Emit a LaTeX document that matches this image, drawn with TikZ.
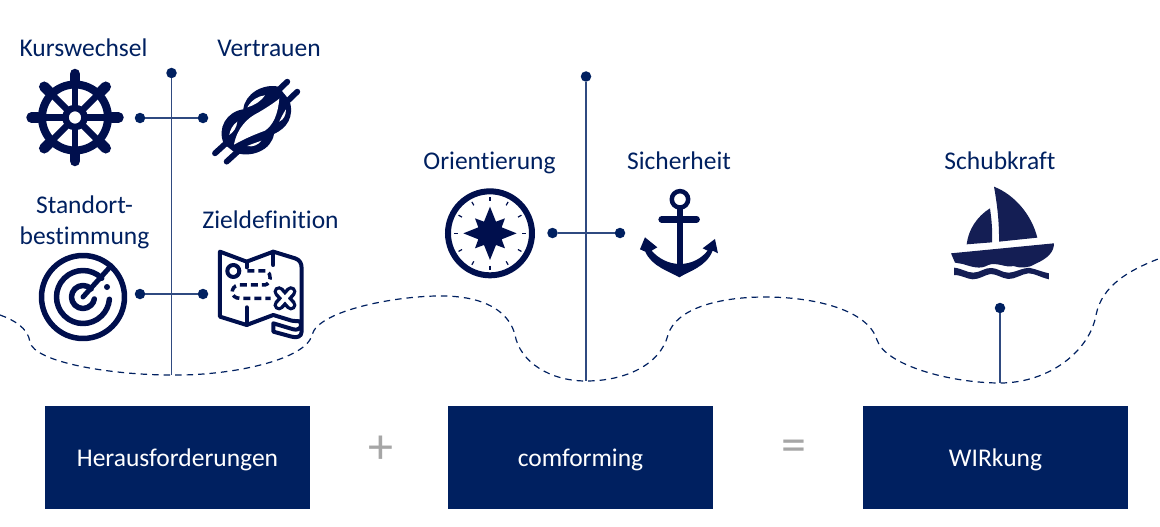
\documentclass[tikz,border=0pt]{standalone}
\usepackage{fontspec}
\setmainfont{Carlito}[Ligatures=NoCommon]
\usetikzlibrary{positioning}
\definecolor{navy}{HTML}{002060}
\definecolor{icon}{HTML}{000F4D}
\definecolor{boat}{HTML}{141E54}
\definecolor{stem}{HTML}{2F4A80}
\definecolor{signgray}{HTML}{A6A6A6}

\begin{document}
\begin{tikzpicture}[
    x=1pt, y=-1pt,
    label/.style={text=navy, align=center, anchor=base, font=\fontsize{25.5}{31}\selectfont, inner sep=0pt},
    box/.style={fill=navy, minimum width=265pt, minimum height=103pt, inner sep=0pt},
    boxtext/.style={text=white, anchor=base, inner sep=0pt, font=\fontsize{25.5}{31}\selectfont},
    sign/.style={text=signgray, inner sep=0pt, font=\fontsize{50}{50}\selectfont},
    dot/.style={circle, fill=navy, minimum size=10.5pt, inner sep=0pt},
    stemline/.style={stem, line width=1.4pt},
    wave/.style={navy, line width=1.2pt, dash pattern=on 6.5pt off 5pt},
    ink/.style={icon, line width=#1, line cap=round, line join=round},
    ink/.default=4pt,
    iconat/.style={shift={#1}, x=1pt, y=1pt},
    zoomat/.style={shift={#1}, x=0.3333pt, y=-0.3333pt}
]
\useasboundingbox (0,0) rectangle (1160,527);

% Boxes
\node[box] (challenges) at (177.5,457.5) {};
\node[box] (comforming) at (580.5,457) {};
\node[box] (impact) at (995.5,457) {};
\node[boxtext] at (177.5,466) {Herausforderungen};
\node[boxtext] at (580.5,466) {comforming};
\node[boxtext] at (995.5,466) {WIRkung};
\node[sign] (plus) at (381,450) {+};
\node[sign] (equals) at (794,451) {=};

% Labels
\node[label] (course) at (83.5,56.5) {Kurswechsel};
\node[label] (trust) at (269,56.5) {Vertrauen};
\node[label] (position) at (84.5,244) {Standort-\\bestimmung};
\node[label] (goal) at (270.5,228) {Zieldefinition};
\node[label] (orientation) at (489.5,169) {Orientierung};
\node[label] (safety) at (679,169) {Sicherheit};
\node[label] (thrust) at (1000,169) {Schubkraft};

% Dots
\node[dot] (topa) at (171.5,73) {};
\node[dot] (lefta) at (140,118) {};
\node[dot] (righta) at (203,118) {};
\node[dot] (leftb) at (140,294) {};
\node[dot] (rightb) at (203,294) {};
\node[dot] (topc) at (586,76.5) {};
\node[dot] (leftc) at (552.5,233) {};
\node[dot] (rightc) at (620,233) {};
\node[dot] (topd) at (1000,308) {};

% Wave
\coordinate (basea) at (171.5,375);
\coordinate (basec) at (586,381);
\coordinate (based) at (1000,383);
\draw[wave] (0,315) .. controls (14,320) and (28,328) .. (30,342)
  .. controls (34,362) and (110,375) .. (basea)
  .. controls (230,376) and (306,360) .. (312,335)
  .. controls (318,310) and (400,295) .. (445,296)
  .. controls (490,297) and (510,315) .. (515,335)
  .. controls (520,362) and (550,381) .. (basec)
  .. controls (625,381) and (660,365) .. (668,335)
  .. controls (676,308) and (720,297) .. (765,297)
  .. controls (815,297) and (868,310) .. (877,340)
  .. controls (885,365) and (950,383) .. (based)
  .. controls (1050,383) and (1090,350) .. (1096,315)
  .. controls (1102,285) and (1130,270) .. (1158,259);

% Connectors
\draw[stemline] (topa) -- (basea);
\draw[stemline] (lefta) -- (righta);
\draw[stemline] (leftb) -- (rightb);
\draw[stemline] (topc) -- (basec);
\draw[stemline] (leftc) -- (rightc);
\draw[stemline] (topd) -- (based);

% Wheel
\begin{scope}[iconat={(75,117.5)}]
  \draw[ink=8pt] (0,0) circle [radius=33pt];
  \foreach \a in {0,45,...,315} {
    \draw[icon, line width=6.5pt] (\a:9) -- (\a:35);
    \draw[ink=10.5pt] (\a:37) -- (\a:43.5);
  }
  \draw[ink=6.5pt, fill=white] (0,0) circle [radius=9.5pt];
\end{scope}

% Knot
\begin{scope}[zoomat={(0,20)}]
  \fill[icon] (672,372) .. controls (650,325) and (680,275) .. (730,268)
    .. controls (735,220) and (790,190) .. (835,200) -- (868,240)
    .. controls (885,290) and (860,325) .. (822,342)
    .. controls (815,390) and (755,415) .. (705,398) -- cycle;
  \draw[ink=5.8pt] (645,400) -- (700,350);
  \draw[ink=5.8pt] (680,425) -- (735,375);
  \draw[ink=5.8pt] (862,185) -- (810,235);
  \draw[ink=5.8pt] (892,215) -- (840,265);
  \fill[white] (702,374) .. controls (712,322) and (745,292) .. (775,278)
    .. controls (795,266) and (818,252) .. (838,236)
    .. controls (834,282) and (820,315) .. (795,332)
    .. controls (762,344) and (730,358) .. (702,374) -- cycle;
  \fill[white] (742,262) .. controls (755,240) and (775,228) .. (795,226)
    .. controls (785,242) and (765,255) .. (742,262) -- cycle;
  \fill[white] (688,345) .. controls (690,330) and (698,315) .. (712,305)
    .. controls (710,322) and (702,335) .. (688,345) -- cycle;
  \fill[white] (838,305) .. controls (845,290) and (850,280) .. (858,268)
    .. controls (858,285) and (852,298) .. (838,305) -- cycle;
  \fill[white] (742,378) .. controls (755,372) and (770,368) .. (784,362)
    .. controls (775,375) and (758,382) .. (742,378) -- cycle;
\end{scope}

% Radar
\begin{scope}[iconat={(83,297)}]
  \draw[ink=5.5pt] (0,0) circle [radius=41.5pt];
  \draw[ink=5.5pt] (45:26.5) arc [start angle=45, end angle=355, radius=26.5pt];
  \draw[ink=5.5pt] (45:11.5) arc [start angle=45, end angle=350, radius=11.5pt];
  \draw[ink=5pt] (0,0) -- (48:42);
  \fill[icon] (24,10) circle [radius=3pt];
\end{scope}

% Map
\begin{scope}[zoomat={(0,190)}]
  \draw[ink=4pt] (660,185) -- (740,215) -- (820,185) -- (885,205)
    .. controls (900,210) and (905,220) .. (905,235) -- (905,425)
    .. controls (905,440) and (890,445) .. (875,440) -- (820,425) -- (820,400)
    -- (880,418) .. controls (900,422) and (905,410) .. (903,400)
    .. controls (900,390) and (890,395) .. (875,392) -- (820,375) -- (740,405) -- (660,380) -- cycle;
  \draw[ink=4pt] (740,215) -- (740,232);
  \draw[ink=4pt] (820,185) -- (820,225);
  \draw[ink=4pt] (740,352) -- (740,405);
  \draw[ink=4pt] (700,243) circle [radius=6pt];
  \draw[icon, line width=3.5pt, dash pattern=on 7pt off 4pt] (742,243) -- (800,243)
    .. controls (815,250) and (815,280) .. (795,285) -- (715,285)
    .. controls (690,290) and (690,325) .. (720,325) -- (812,325);
  \draw[ink=11pt] (837,305) -- (873,345) (873,305) -- (837,345);
  \draw[white, line width=4pt, line cap=round] (837,305) -- (873,345) (873,305) -- (837,345);
\end{scope}

% Compass
\begin{scope}[zoomat={(410,140)}]
  \draw[icon, line width=6pt] (240,280) circle [radius=42pt];
  \foreach \a in {0,30,...,330} {
    \draw[icon, line width=1.2pt] (240,280) ++(\a:97) -- ++(\a:12);
  }
  \fill[icon] (240,200) -- (258,245) -- (285,235) -- (275,262) -- (320,280) -- (275,298)
    -- (285,325) -- (258,315) -- (240,360) -- (222,315) -- (195,325) -- (205,298)
    -- (160,280) -- (205,262) -- (195,235) -- (222,245) -- cycle;
\end{scope}

% Anchor
\begin{scope}[zoomat={(410,140)}]
  \draw[ink=4.5pt] (810,178) circle [radius=8.2pt];
  \draw[ink=6.5pt] (755,238) -- (860,238);
  \fill[icon] (800,200) rectangle (820,390);
  \fill[icon] (690,328) -- (705,292) -- (742,322) -- (725,332)
    .. controls (745,355) and (775,372) .. (810,372)
    .. controls (845,372) and (875,355) .. (893,332) -- (878,325) -- (915,297) -- (924,340) -- (908,332)
    .. controls (890,380) and (835,395) .. (808,412)
    .. controls (780,395) and (725,380) .. (706,335) -- cycle;
\end{scope}

% Boat
\begin{scope}[zoomat={(920,140)}]
  \fill[boat] (222,140) .. controls (285,165) and (335,225) .. (352,293) -- (237,305)
    .. controls (238,250) and (232,195) .. (222,140) -- cycle;
  \fill[boat] (210,205) .. controls (215,240) and (218,275) .. (216,307) -- (140,313)
    .. controls (145,270) and (170,230) .. (210,205) -- cycle;
  \fill[boat] (93,340) -- (402,310) .. controls (402,335) and (385,355) .. (345,372)
    .. controls (325,385) and (300,385) .. (280,378) .. controls (260,385) and (230,365) .. (205,375)
    .. controls (180,390) and (155,380) .. (128,372) -- (105,368) -- cycle;
  \fill[boat] (102,383) .. controls (125,385) and (140,398) .. (160,398)
    .. controls (180,398) and (195,382) .. (215,384) .. controls (235,385) and (245,398) .. (265,398)
    .. controls (285,398) and (310,382) .. (330,384) .. controls (350,388) and (370,397) .. (387,400)
    -- (387,418) .. controls (360,412) and (345,400) .. (325,400)
    .. controls (305,402) and (285,418) .. (265,417) .. controls (245,415) and (230,402) .. (212,402)
    .. controls (195,404) and (180,418) .. (158,418) .. controls (140,417) and (125,405) .. (102,405) -- cycle;
\end{scope}

\end{tikzpicture}
\end{document}
